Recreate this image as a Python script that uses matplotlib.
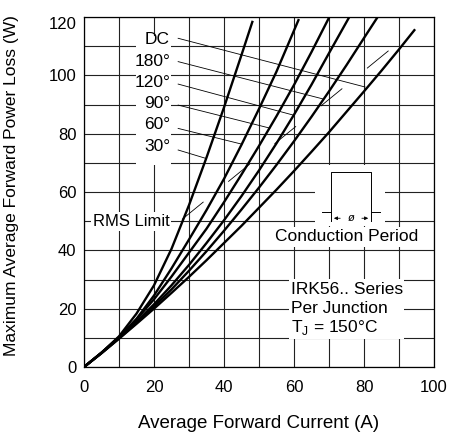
import matplotlib
matplotlib.use("Agg")
import matplotlib.pyplot as plt
from matplotlib.patches import Rectangle

plt.rcParams['font.family'] = ['Liberation Sans', 'DejaVu Sans']
plt.rcParams['lines.scale_dashes'] = False

# curves: average forward current (A) vs max average forward power loss (W)
current_30 = [0, 5, 10, 15, 20, 25, 30, 35, 40, 45, 48.2]
power_30 = [0, 4.9, 10.5, 18.3, 28.0, 40.5, 55.5, 71.8, 89.0, 107.0, 118.7]

current_60 = [0, 5, 10, 15, 20, 25, 30, 35, 40, 45, 50, 55, 61.4]
power_60 = [0, 4.9, 10.2, 16.5, 24.5, 33.8, 43.7, 53.8, 64.5, 76.2, 88.5, 101.3, 119.3]

current_90 = [0, 5, 10, 15, 20, 25, 30, 35, 40, 45, 50, 55, 60, 65, 70.1]
power_90 = [0, 4.9, 10.2, 16.3, 23.2, 31.0, 39.2, 47.4, 56.5, 66.0, 75.8, 86.0, 96.7, 108.0, 120]

current_120 = [0, 5, 10, 15, 20, 25, 30, 35, 40, 45, 50, 55, 60, 65, 70, 75.8]
power_120 = [0, 4.8, 9.9, 15.5, 21.5, 28.0, 35.0, 42.5, 50.3, 58.6, 67.4, 76.7, 86.5, 96.8, 107.6, 120]

current_180 = [0, 5, 10, 15, 20, 25, 30, 35, 40, 45, 50, 55, 60, 65, 70, 75, 80, 83.9]
power_180 = [0, 4.8, 9.8, 15.1, 20.7, 26.6, 33.0, 39.7, 46.7, 54.0, 61.5, 69.3, 77.4, 85.8, 94.5, 103.5, 112.8, 120]

current_dc = [0, 5, 10, 15, 20, 25, 30, 35, 40, 45, 50, 55, 60, 65, 70, 75, 80, 85, 90, 94.6]
power_dc = [0, 4.7, 9.7, 14.8, 20.0, 25.4, 30.9, 36.6, 42.5, 48.4, 54.6, 60.8, 67.2, 73.8, 80.5, 87.5, 94.5, 101.6, 108.9, 115.8]

# RMS limit (dashed)
rms_current = [28.0, 88.3]
rms_power = [50.6, 109.7]

# curve labels and leader lines
label_text = ['DC', '180°', '120°', '90°', '60°', '30°']
label_power = [112.4, 104.9, 97.5, 90.4, 83.0, 75.5]
leader_start_power = [112.7, 104.7, 97.0, 89.8, 81.8, 74.4]
leader_end_current = [80.3, 68.3, 59.7, 53.1, 45.1, 34.6]
leader_end_power = [96.0, 91.9, 86.4, 81.9, 76.4, 71.6]

# conduction period sketch
pulse_current = [67.9, 70.6, 70.6, 82.0, 82.0, 84.6]
pulse_power = [53.0, 53.0, 66.95, 66.95, 53.0, 53.0]

fig = plt.figure(figsize=(4.56, 4.37), dpi=100)
ax = fig.add_axes([84 / 456, 70 / 437, 350 / 456, 350 / 437])

ax.set_xlim(0, 100)
ax.set_ylim(0, 120)
ax.set_xticks(range(0, 101, 10))
ax.set_xticklabels([str(v) if v % 20 == 0 else '' for v in range(0, 101, 10)])
ax.set_yticks(range(0, 121, 10))
ax.set_yticklabels([str(v) if v % 20 == 0 else '' for v in range(0, 121, 10)])
ax.tick_params(length=0, labelsize=12, colors='black')
ax.tick_params(axis='x', pad=9.5)
ax.tick_params(axis='y', pad=5.5)
ax.get_yticklabels()[-1].set_va('top')
ax.grid(True, color='#222222', linewidth=0.8, zorder=0)
ax.set_axisbelow(True)
for s in ax.spines.values():
    s.set_linewidth(0.9)
    s.set_color('black')

for xs, ys in [(current_30, power_30), (current_60, power_60), (current_90, power_90),
               (current_120, power_120), (current_180, power_180), (current_dc, power_dc)]:
    ax.plot(xs, ys, color='black', linewidth=1.7, zorder=4, solid_capstyle='butt')

ax.plot(rms_current, rms_power, color='black', linewidth=0.6,
        linestyle=(0, (20, 23)), zorder=4)

# label block
ax.add_patch(Rectangle((14.9, 69.4), 10.1, 44.1, facecolor='white', edgecolor='none', zorder=2))
for txt, yp in zip(label_text, label_power):
    ax.text(24.6, yp, txt, ha='right', va='center', fontsize=12.5, zorder=5)
for ys, xe, ye in zip(leader_start_power, leader_end_current, leader_end_power):
    ax.plot([26.9, xe], [ys, ye], color='black', linewidth=0.6, zorder=3)

ax.text(13.4, 50.0, 'RMS Limit', ha='center', va='center', fontsize=12, zorder=5,
        bbox=dict(facecolor='white', edgecolor='none', pad=1.5))

# conduction period inset
ax.add_patch(Rectangle((66.0, 48.3), 20.0, 20.9, facecolor='white', edgecolor='none', zorder=2))
ax.plot(pulse_current, pulse_power, color='black', linewidth=0.7, zorder=4)
ax.plot([70.6, 70.6], [53.0, 50.05], color='black', linewidth=0.7, zorder=4)
ax.plot([82.0, 82.0], [53.0, 50.05], color='black', linewidth=0.7, zorder=4)
ax.annotate('', xy=(70.6, 51.0), xytext=(74.0, 51.0),
            arrowprops=dict(arrowstyle='-|>', color='black', lw=0.6, mutation_scale=5), zorder=4)
ax.annotate('', xy=(82.0, 51.0), xytext=(78.6, 51.0),
            arrowprops=dict(arrowstyle='-|>', color='black', lw=0.6, mutation_scale=5), zorder=4)
ax.text(76.3, 51.0, 'ø', ha='center', va='center', fontsize=8, style='italic', zorder=5)
ax.text(74.9, 44.6, 'Conduction Period', ha='center', va='center', fontsize=12.5, zorder=5,
        bbox=dict(facecolor='white', edgecolor='none', pad=1.5))

# series info block
ax.add_patch(Rectangle((58.6, 9.6), 32.8, 20.6, facecolor='white', edgecolor='none', zorder=2))
ax.text(59.2, 26.4, 'IRK56.. Series', ha='left', va='center', fontsize=12.5, zorder=5)
ax.text(59.2, 20.2, 'Per Junction', ha='left', va='center', fontsize=12.5, zorder=5)
ax.text(59.2, 13.7, r'T$_{\mathregular{J}}$ = 150°C', ha='left', va='center', fontsize=12.5, zorder=5)

fig.text(259 / 456, 1 - 423 / 437, 'Average Forward Current (A)', ha='center', va='center', fontsize=13.5)
fig.text(12 / 456, 1 - 186 / 437, 'Maximum Average Forward Power Loss (W)', ha='center', va='center',
         rotation=90, fontsize=12.5)

fig.savefig('out.png', dpi=100)
